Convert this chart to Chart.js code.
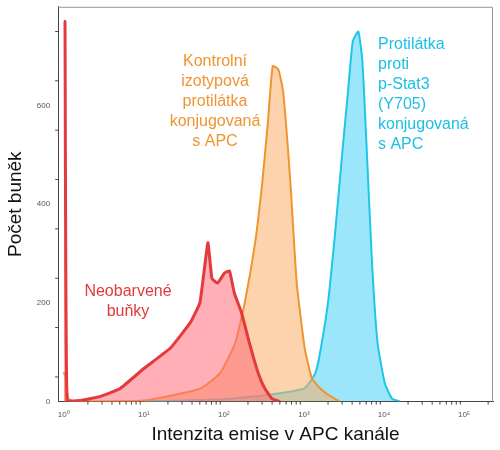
<!DOCTYPE html>
<html><head><meta charset="utf-8">
<script src="https://cdn.jsdelivr.net/npm/chart.js@4"></script>
<style>html,body{margin:0;background:#fff}#w{width:500px;height:450px}</style>
</head><body><div id="w"><canvas id="c"></canvas></div>
<script>
// x positions as log10 of intensity
const redLogX = [0, 0.005, 0.015, 0.04, 0.2, 0.45, 0.7, 1.0, 1.33, 1.58, 1.7, 1.8, 1.85, 1.92, 2.01, 2.07, 2.13, 2.22, 2.32, 2.43, 2.51, 2.6, 2.7];
const redY    = [770, 770, 770, 2, 2, 10, 26, 67, 108, 160, 200, 322, 250, 240, 261, 265, 220, 180, 118, 57, 27, 6, 0];
const orangeLogX = [0, 0.02, 0.06, 0.15, 1.0, 1.7, 1.95, 2.14, 2.26, 2.39, 2.48, 2.55, 2.61, 2.68, 2.74, 2.83, 2.91, 3.01, 3.1, 3.2, 3.32, 3.45];
const orangeY    = [60, 50, 5, 0, 2, 26, 57, 118, 200, 322, 445, 567, 680, 673, 628, 445, 240, 108, 47, 27, 12, 0];
const cyanLogX = [1.0, 2.0, 2.45, 2.82, 3.01, 3.14, 3.2, 3.3, 3.39, 3.48, 3.55, 3.61, 3.68, 3.73, 3.78, 3.85, 3.92, 4.01, 4.1, 4.2];
const cyanY    = [0, 5, 12, 20, 27, 57, 98, 200, 343, 506, 628, 730, 750, 690, 526, 282, 118, 37, 6, 0];
const xTickExps = [0, 1, 2, 3, 4, 5];
const supers = ['⁰','¹','²','³','⁴','⁵'];
const pts = (lx, ys) => lx.map((v, i) => ({x: Math.pow(10, v), y: ys[i]}));

const labels = [
  {lines:['Neobarvené','buňky'], x:128, y:292, color:'#e03a3a', align:'center'},
  {lines:['Kontrolní','izotypová','protilátka','konjugovaná','s APC'], x:215, y:62, color:'#ee9430', align:'center'},
  {lines:['Protilátka','proti','p-Stat3','(Y705)','konjugovaná','s APC'], x:378, y:45, color:'#1cbfe5', align:'left'}
];
const annot = {id:'annot', afterDraw(ch){
  const c = ch.ctx, a = ch.chartArea; c.save();
  c.strokeStyle='#999'; c.lineWidth=1;
  c.beginPath(); c.moveTo(a.left,a.top+0.5); c.lineTo(a.right-0.5,a.top+0.5); c.lineTo(a.right-0.5,a.bottom); c.stroke();
  // minor ticks
  c.strokeStyle='#444';
  const xs=ch.scales.x, ys=ch.scales.y;
  for(let e=0;e<6;e++) for(let m=2;m<10;m++){ const v=m*Math.pow(10,e); if(v>xs.max) break;
    const px=xs.getPixelForValue(v); c.beginPath(); c.moveTo(px,a.bottom); c.lineTo(px,a.bottom+3); c.stroke(); }
  for(let v=50; v<800; v+=100){ const py=ys.getPixelForValue(v); c.beginPath(); c.moveTo(a.left-3,py); c.lineTo(a.left,py); c.stroke(); }
  c.font = '16px "Liberation Sans", Arial, sans-serif'; c.textBaseline='middle';
  labels.forEach(l=>{ c.fillStyle=l.color; c.textAlign=l.align;
    l.lines.forEach((t,i)=>c.fillText(t,l.x,l.y+i*20)); });
  c.restore();
}};

new Chart(document.getElementById('c'), {
  type:'line',
  data:{datasets:[
    {data:pts(redLogX,redY), borderColor:'#e23a3f', backgroundColor:'rgba(255,110,120,0.55)', fill:'origin', borderWidth:3, pointRadius:0, tension:0.1},
    {data:pts(orangeLogX,orangeY), borderColor:'#f0952e', backgroundColor:'rgba(250,175,105,0.55)', fill:'origin', borderWidth:2, pointRadius:0, tension:0.15},
    {data:pts(cyanLogX,cyanY), borderColor:'#1ec6e8', backgroundColor:'rgba(55,205,245,0.5)', fill:'origin', borderWidth:2, pointRadius:0, tension:0.15}
  ]},
  options:{animation:false, responsive:true, maintainAspectRatio:false,
    layout:{padding:{top:5,right:7,left:0,bottom:0}},
    plugins:{legend:{display:false}, tooltip:{enabled:false}},
    scales:{
      x:{type:'logarithmic', min:0.85, max:230000,
        afterBuildTicks(ax){ ax.ticks = xTickExps.map(e=>({value:Math.pow(10,e)})); },
        ticks:{autoSkip:false, maxRotation:0, font:{size:8}, color:'#555', padding:2, callback:(v)=>{const e=Math.round(Math.log10(v)); return '10'+supers[e];}},
        grid:{display:false, drawTicks:true, tickLength:6}, border:{color:'#444'},
        title:{display:true, text:'Intenzita emise v APC kanále', font:{size:19, family:'"Liberation Sans", Arial'}, color:'#111', padding:{top:2,bottom:4}}},
      y:{min:0, max:800,
        afterBuildTicks(ax){ ax.ticks=[0,200,400,600].map(v=>({value:v})); },
        ticks:{font:{size:8}, color:'#555', padding:2},
        grid:{display:false, tickLength:6}, border:{color:'#444'},
        title:{display:true, text:'Počet buněk', font:{size:19, family:'"Liberation Sans", Arial'}, color:'#111', padding:{bottom:8}}}
    }},
  plugins:[annot]
});
</script></body></html>
